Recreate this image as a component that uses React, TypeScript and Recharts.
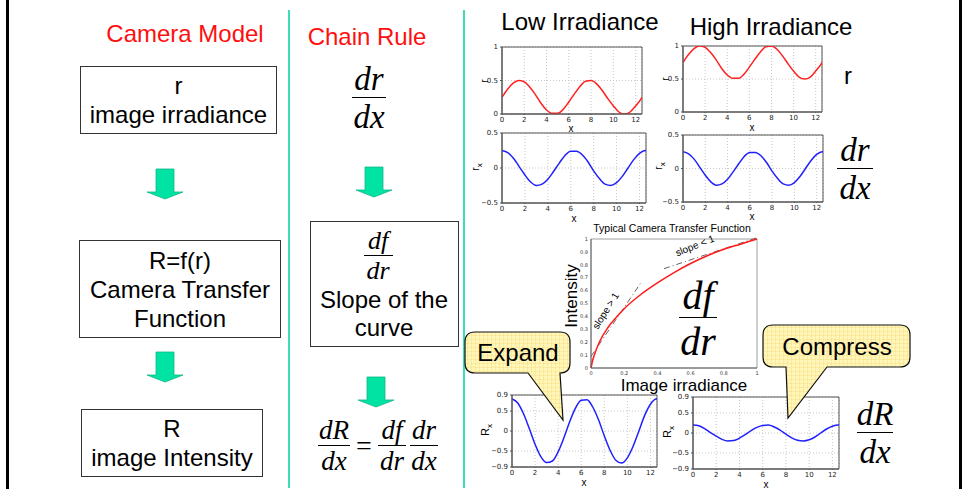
import React from 'react';
import { LineChart, Line, XAxis, YAxis, CartesianGrid, ReferenceArea, ReferenceLine } from 'recharts';

// sample positions along x (0 .. 4*pi)
const xs = [0, 0.5, 1, 1.5, 2, 2.5, 3, 3.5, 4, 4.5, 5, 5.5, 6, 6.5, 7, 7.5, 8, 8.5, 9, 9.5, 10, 10.5, 11, 11.5, 12, 12.5, 12.57];

const lowR = [0.25, 0.37, 0.46, 0.5, 0.48, 0.4, 0.29, 0.16, 0.06, 0.01, 0.01, 0.07, 0.18, 0.3, 0.41, 0.49, 0.5, 0.45, 0.35, 0.23, 0.12, 0.03, 0.0, 0.03, 0.12, 0.23, 0.25];
const highR = [0.75, 0.87, 0.96, 1.0, 0.98, 0.9, 0.79, 0.66, 0.56, 0.51, 0.51, 0.57, 0.68, 0.8, 0.91, 0.99, 1.0, 0.95, 0.85, 0.73, 0.62, 0.53, 0.5, 0.53, 0.62, 0.73, 0.75];
const rX = [0.25, 0.22, 0.14, 0.02, -0.1, -0.2, -0.25, -0.23, -0.16, -0.05, 0.07, 0.18, 0.24, 0.24, 0.19, 0.09, -0.04, -0.15, -0.23, -0.25, -0.21, -0.12, 0.0, 0.12, 0.21, 0.25, 0.25];
const expandRx = [0.8, 0.7, 0.43, 0.06, -0.33, -0.64, -0.79, -0.75, -0.52, -0.17, 0.23, 0.57, 0.77, 0.78, 0.6, 0.28, -0.12, -0.48, -0.73, -0.8, -0.67, -0.38, 0.0, 0.39, 0.67, 0.8, 0.8];
const compressRx = [0.2, 0.18, 0.11, 0.01, -0.08, -0.16, -0.2, -0.19, -0.13, -0.04, 0.06, 0.14, 0.19, 0.2, 0.15, 0.07, -0.03, -0.12, -0.18, -0.2, -0.17, -0.1, 0.0, 0.1, 0.17, 0.2, 0.2];
const xTicks = [0, 2, 4, 6, 8, 10, 12];

// camera transfer function
const irradiance = [0, 0.01, 0.02, 0.05, 0.1, 0.15, 0.2, 0.3, 0.4, 0.5, 0.6, 0.7, 0.8, 0.9, 1.0];
const intensity = [0, 0.06, 0.1, 0.2, 0.31, 0.39, 0.46, 0.57, 0.66, 0.74, 0.81, 0.87, 0.92, 0.96, 1.0];
const irrTicks = [0, 0.2, 0.4, 0.6, 0.8, 1];
const intTicks = [0, 0.1, 0.2, 0.3, 0.4, 0.5, 0.6, 0.7, 0.8, 0.9, 1];
const steepTangent = [{ x: 0, y: 0.09 }, { x: 0.3, y: 0.66 }];
const flatTangent = [{ x: 0.44, y: 0.77 }, { x: 1, y: 1.01 }];

const waveData = xs.map((x, i) => ({
  x,
  lowR: lowR[i],
  highR: highR[i],
  rX: rX[i],
  expand: expandRx[i],
  compress: compressRx[i],
}));
const curveData = irradiance.map((r, i) => ({ r, f: intensity[i] }));

const SANS = '"Liberation Sans", Arial, sans-serif';
const SERIF = '"Liberation Serif", "Times New Roman", serif';
const RED = '#ff1010';
const GREEN_LINE = '#3fdcb8';

const fmt = (v: number) => (v < 0 ? '\u2212' + Math.abs(v) : String(v));

const YW = 20;
const XH = 10;
const MT = 4;
const MR = 3;

function SmallPlot({ left, top, w, h, dataKey, color, domain, ticks }: any) {
  const tickStyle = { fontSize: 7, fill: '#222', fontFamily: '"DejaVu Sans", sans-serif' };
  return (
    <div style={{ position: 'absolute', left: left - YW, top: top - MT }}>
      <LineChart width={w + YW + MR} height={h + MT + XH} data={waveData} margin={{ top: MT, right: MR, left: 0, bottom: 0 }}>
        <CartesianGrid stroke="#c8c8c8" strokeDasharray="1 2" />
        <XAxis
          dataKey="x"
          type="number"
          domain={[0, 12.57]}
          ticks={xTicks}
          interval={0}
          height={XH}
          tickSize={1}
          tick={tickStyle}
          axisLine={{ stroke: '#555' }}
          tickLine={{ stroke: '#555' }}
          allowDataOverflow
        />
        <YAxis
          type="number"
          domain={domain}
          ticks={ticks}
          interval={0}
          width={YW}
          tickSize={2}
          tickFormatter={fmt}
          tick={tickStyle}
          axisLine={{ stroke: '#555' }}
          tickLine={{ stroke: '#555' }}
          allowDataOverflow
        />
        <ReferenceArea x1={0} x2={12.57} y1={domain[0]} y2={domain[1]} fill="none" stroke="#555" strokeWidth={1} />
        <Line dataKey={dataKey} type="monotone" stroke={color} strokeWidth={1.5} dot={false} isAnimationActive={false} />
      </LineChart>
    </div>
  );
}

function TransferPlot() {
  const left = 591, top = 239, w = 166, h = 129;
  const yw = 14, xh = 9;
  const tickStyle = { fontSize: 5, fill: '#333', fontFamily: '"DejaVu Sans", sans-serif' };
  return (
    <div style={{ position: 'absolute', left: left - yw, top: top - 3 }}>
      <LineChart width={w + yw + 3} height={h + 3 + xh} data={curveData} margin={{ top: 3, right: 3, left: 0, bottom: 0 }}>
        <XAxis dataKey="r" type="number" domain={[0, 1]} ticks={irrTicks} interval={0} height={xh} tickSize={1} tick={tickStyle} axisLine={{ stroke: '#666' }} tickLine={false} />
        <YAxis type="number" domain={[0, 1]} ticks={intTicks} interval={0} width={yw} tickSize={1} tick={tickStyle} axisLine={{ stroke: '#666' }} tickLine={false} />
        <ReferenceArea x1={0} x2={1} y1={0} y2={1} fill="none" stroke="#888" strokeWidth={0.8} />
        <ReferenceLine segment={steepTangent} stroke="#666" strokeDasharray="6 3 1 3" ifOverflow="visible" />
        <ReferenceLine segment={flatTangent} stroke="#666" strokeDasharray="6 3 1 3" ifOverflow="visible" />
        <Line dataKey="f" type="monotone" stroke="#ff1a1a" strokeWidth={1.5} dot={false} isAnimationActive={false} />
      </LineChart>
    </div>
  );
}

function Frac({ cx, y, size, num, den, lw }: any) {
  const common: React.CSSProperties = {
    position: 'absolute',
    left: cx - 60,
    width: 120,
    textAlign: 'center',
    fontFamily: SERIF,
    fontStyle: 'italic',
    fontSize: size,
    lineHeight: `${size}px`,
    whiteSpace: 'nowrap',
  };
  return (
    <>
      <div style={{ ...common, top: y - size * 1.02 }}>{num}</div>
      <div style={{ position: 'absolute', left: cx - lw / 2, top: y - 0.5, width: lw, height: 1.3, background: '#000' }} />
      <div style={{ ...common, top: y + size * 0.12 }}>{den}</div>
    </>
  );
}

function Arrow({ cx, top }: any) {
  return (
    <svg style={{ position: 'absolute', left: cx - 19, top: top - 1 }} width={38} height={33}>
      <polygon
        points={`${19 - 9},1 ${19 + 9},1 ${19 + 9},24 ${19 + 18},24 19,31 ${19 - 18},24 ${19 - 9},24`}
        fill="#00e3a2"
        stroke="#10b888"
        strokeWidth={0.8}
      />
    </svg>
  );
}

function Box({ left, top, w, h, lines, size = 24, lh = 29 }: any) {
  return (
    <div
      style={{
        position: 'absolute',
        left,
        top,
        width: w,
        height: h,
        boxSizing: 'border-box',
        border: '1px solid #333',
        display: 'flex',
        flexDirection: 'column',
        justifyContent: 'center',
        alignItems: 'center',
        fontFamily: SANS,
        fontSize: size,
        lineHeight: `${lh}px`,
      }}
    >
      {lines.map((l: string) => (
        <div key={l} style={{ whiteSpace: 'nowrap' }}>{l}</div>
      ))}
    </div>
  );
}

function Txt({ cx, cy, size, children, color = '#000', rotate = 0, family = SANS }: any) {
  return (
    <div
      style={{
        position: 'absolute',
        left: cx - 150,
        top: cy - size,
        width: 300,
        height: size * 2,
        lineHeight: `${size * 2}px`,
        textAlign: 'center',
        fontFamily: family,
        fontSize: size,
        color,
        whiteSpace: 'nowrap',
        transform: rotate ? `rotate(${rotate}deg)` : undefined,
      }}
    >
      {children}
    </div>
  );
}

const calloutPath = (x1: number, y1: number, x2: number, y2: number, b1: number, b2: number, tx: number, ty: number) => {
  const r = 10;
  return `M ${x1 + r} ${y1} H ${x2 - r} Q ${x2} ${y1} ${x2} ${y1 + r} V ${y2 - r} Q ${x2} ${y2} ${x2 - r} ${y2} H ${b2} L ${tx} ${ty} L ${b1} ${y2} H ${x1 + r} Q ${x1} ${y2} ${x1} ${y2 - r} V ${y1 + r} Q ${x1} ${y1} ${x1 + r} ${y1} Z`;
};

export default function App() {
  return (
    <div style={{ position: 'absolute', left: 0, top: 0, width: 966, height: 489, background: '#fff', overflow: 'hidden' }}>
      {/* slide frame */}
      <div style={{ position: 'absolute', left: 6, top: 0, width: 3, height: 489, background: '#000' }} />
      <div style={{ position: 'absolute', left: 959, top: 0, width: 3, height: 489, background: '#000' }} />
      <div style={{ position: 'absolute', left: 288, top: 10, width: 1.5, height: 478, background: GREEN_LINE }} />
      <div style={{ position: 'absolute', left: 463, top: 10, width: 1.5, height: 478, background: GREEN_LINE }} />

      {/* camera model column */}
      <Txt cx={185} cy={34} size={24} color={RED}>Camera Model</Txt>
      <Box left={80} top={66} w={197} h={68} lines={['r', 'image irradiance']} />
      <Arrow cx={165} top={169} />
      <Box left={79} top={240} w={202} h={98} lines={['R=f(r)', 'Camera Transfer', 'Function']} />
      <Arrow cx={165} top={352} />
      <Box left={81} top={409} w={182} h={68} lines={['R', 'image Intensity']} />

      {/* chain rule column */}
      <Txt cx={367} cy={37} size={24} color={RED}>Chain Rule</Txt>
      <Frac cx={369} y={97} size={33} lw={34} num="dr" den="dx" />
      <Arrow cx={374} top={167} />
      <div style={{ position: 'absolute', left: 310, top: 221, width: 149, height: 126, boxSizing: 'border-box', border: '1px solid #333' }} />
      <Frac cx={378} y={255} size={26} lw={29} num="df" den="dr" />
      <Txt cx={384} cy={300} size={24}>Slope of the</Txt>
      <Txt cx={384} cy={328} size={24}>curve</Txt>
      <Arrow cx={376} top={377} />
      <Frac cx={334} y={445} size={27} lw={32} num="dR" den="dx" />
      <Txt cx={364} cy={446} size={28} family={SERIF}>=</Txt>
      <Frac cx={392} y={445} size={27} lw={28} num="df" den="dr" />
      <Frac cx={424} y={445} size={27} lw={28} num="dr" den="dx" />

      {/* right side plots */}
      <Txt cx={580} cy={22} size={24}>Low Irradiance</Txt>
      <Txt cx={771} cy={27} size={24}>High Irradiance</Txt>

      <SmallPlot left={502} top={47} w={140} h={67} dataKey="lowR" color="#ff2020" domain={[0, 1]} ticks={[0, 0.5, 1]} />
      <SmallPlot left={502} top={133} w={144} h={70} dataKey="rX" color="#2020ff" domain={[-0.5, 0.5]} ticks={[-0.5, 0, 0.5]} />
      <SmallPlot left={683} top={46} w={139} h={66} dataKey="highR" color="#ff2020" domain={[0, 1]} ticks={[0, 0.5, 1]} />
      <SmallPlot left={683} top={135} w={140} h={67} dataKey="rX" color="#2020ff" domain={[-0.5, 0.5]} ticks={[-0.5, 0, 0.5]} />

      <Txt cx={485} cy={81} size={10} rotate={-90}>r</Txt>
      <Txt cx={476} cy={167} size={10} rotate={-90}>r<sub style={{ fontSize: 8 }}>x</sub></Txt>
      <Txt cx={666} cy={79} size={10} rotate={-90}>r</Txt>
      <Txt cx={659} cy={166} size={10} rotate={-90}>r<sub style={{ fontSize: 8 }}>x</sub></Txt>
      <Txt cx={571} cy={129} size={10}>x</Txt>
      <Txt cx={574} cy={219} size={10}>x</Txt>
      <Txt cx={752} cy={128} size={10}>x</Txt>
      <Txt cx={752} cy={217} size={10}>x</Txt>

      <Txt cx={848} cy={76} size={24}>r</Txt>
      <Frac cx={855} y={168} size={33} lw={36} num="dr" den="dx" />

      {/* camera transfer function */}
      <Txt cx={672} cy={228} size={10.5}>Typical Camera Transfer Function</Txt>
      <TransferPlot />
      <Txt cx={572} cy={296} size={17} rotate={-90}>Intensity</Txt>
      <Txt cx={684} cy={386} size={17}>Image irradiance</Txt>
      <Txt cx={606} cy={311} size={10} rotate={-58}>slope &gt; 1</Txt>
      <Txt cx={695} cy={246} size={10} rotate={-22}>slope &lt; 1</Txt>
      <Frac cx={698} y={317} size={40} lw={38} num="df" den="dr" />

      {/* bottom derivative plots */}
      <SmallPlot left={512} top={395} w={145} h={72} dataKey="expand" color="#2020ff" domain={[-0.9, 0.9]} ticks={[-0.9, -0.5, 0, 0.5, 0.9]} />
      <SmallPlot left={693} top={397} w={146} h={72} dataKey="compress" color="#2020ff" domain={[-0.9, 0.9]} ticks={[-0.9, -0.5, 0, 0.5, 0.9]} />
      <Txt cx={485} cy={430} size={11} rotate={-90}>R<sub style={{ fontSize: 8 }}>x</sub></Txt>
      <Txt cx={667} cy={432} size={11} rotate={-90}>R<sub style={{ fontSize: 8 }}>x</sub></Txt>
      <Txt cx={584} cy={483} size={10}>x</Txt>
      <Txt cx={766} cy={485} size={10}>x</Txt>
      <Frac cx={875} y={432} size={33} lw={36} num="dR" den="dx" />

      {/* callouts */}
      <svg style={{ position: 'absolute', left: 0, top: 0 }} width={966} height={489}>
        <defs>
          <pattern id="grid" width={4} height={4} patternUnits="userSpaceOnUse">
            <rect width={4} height={4} fill="#fff6b8" />
            <path d="M 4 0 V 4 M 0 4 H 4" stroke="#f2cf6a" strokeWidth={0.6} />
          </pattern>
        </defs>
        <path d={calloutPath(465, 332, 570, 373, 528, 560, 563, 420)} fill="url(#grid)" stroke="#111" strokeWidth={1.2} />
        <path d={calloutPath(763, 325, 910, 367, 786, 827, 788, 418)} fill="url(#grid)" stroke="#111" strokeWidth={1.2} />
      </svg>
      <Txt cx={518} cy={353} size={24}>Expand</Txt>
      <Txt cx={837} cy={347} size={24}>Compress</Txt>
    </div>
  );
}
